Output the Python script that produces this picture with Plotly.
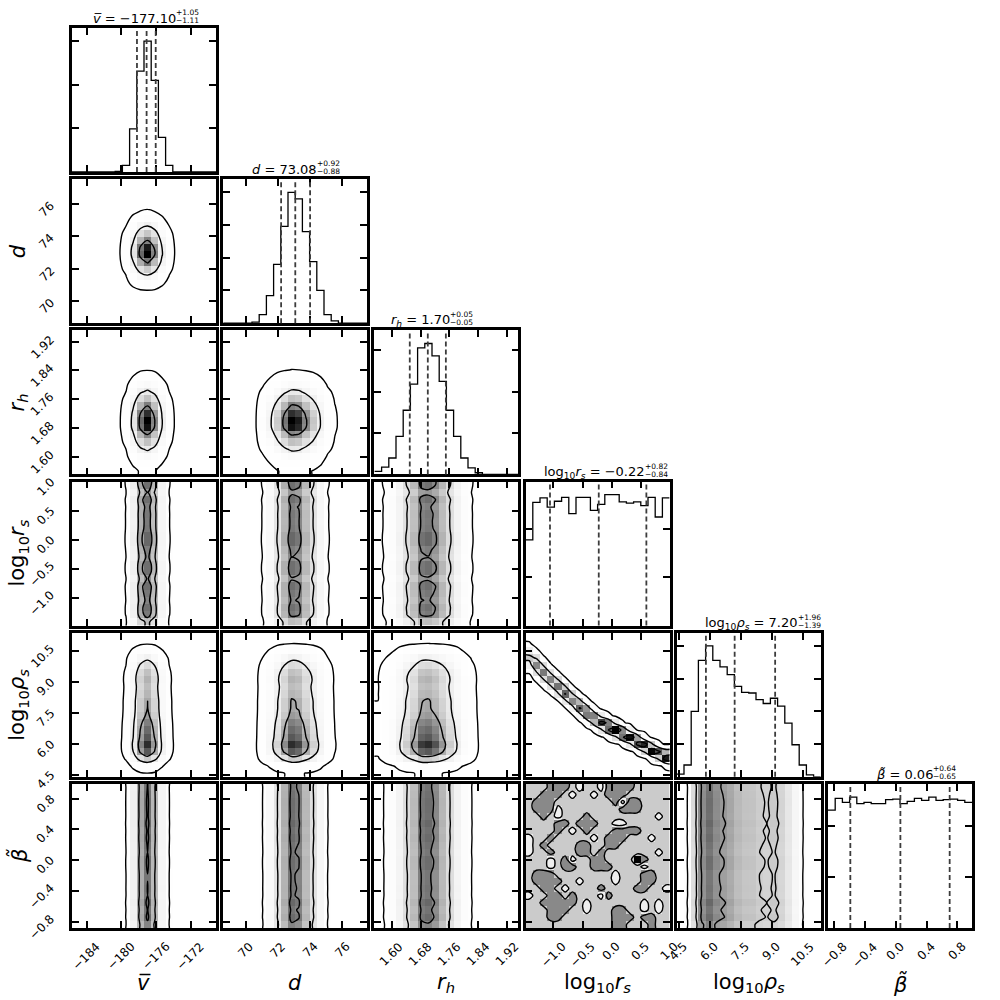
import math
import numpy as np
import plotly.graph_objects as go

# ---------------- data ----------------
axis_labels = [
    "<i>v\u0305</i>",
    "<i>d</i>",
    "<i>r</i><sub><i>h</i></sub>",
    "log<sub>10</sub><i>r</i><sub><i>s</i></sub>",
    "log<sub>10</sub><i>ρ</i><sub><i>s</i></sub>",
    "<i>β\u0303</i>",
]
ranges = [[-185.7, -169.1], [68.6, 77.55], [1.552, 1.951], [-1.48, 1.0], [4.4, 11.37], [-0.88, 0.99]]
tick_values = [
    [-184, -180, -176, -172],
    [70, 72, 74, 76],
    [1.60, 1.68, 1.76, 1.84, 1.92],
    [-1.0, -0.5, 0.0, 0.5, 1.0],
    [4.5, 6.0, 7.5, 9.0, 10.5],
    [-0.8, -0.4, 0.0, 0.4, 0.8],
]
tick_decimals = [0, 0, 2, 1, 1, 1]

hist_v = [0, 0, 0, 0, 0, 0, 15, 150, 990, 2310, 3000, 2100, 795, 150, 0, 0, 0, 0, 0, 0]
hist_d = [0, 0, 0, 0, 16, 130, 420, 900, 1480, 2000, 1900, 1400, 940, 500, 130, 36, 0, 0, 0, 0]
hist_rh = [36, 88, 198, 458, 774, 1090, 1528, 1580, 1430, 1122, 774, 458, 198, 79, 20, 0, 0, 0, 0, 0]
hist_rs = [354, 508, 527, 489, 513, 529, 462, 529, 529, 475, 500, 540, 540, 510, 505, 510, 495, 529, 448, 527]
hist_rho = [16, 72, 400, 712, 800, 712, 672, 624, 552, 516, 512, 472, 448, 480, 432, 328, 196, 72, 12, 0]
hist_beta = [464, 510, 494, 515, 489, 494, 489, 489, 505, 507, 489, 498, 510, 502, 515, 502, 505, 507, 502, 494]
hist_yticks = [[1000, 2000, 3000], [500, 1000, 1500, 2000], [500, 1000, 1500], [200, 400],
               [200, 400, 600, 800], [200, 400]]

medians = [-177.10, 73.08, 1.70, -0.22, 7.20, 0.06]
err_plus = [1.05, 0.92, 0.05, 0.82, 1.96, 0.64]
err_minus = [1.11, 0.88, 0.05, 0.84, 1.39, 0.65]

# ridge of the log10 r_s - log10 rho_s degeneracy
band_rs = [-1.44, -1.10, -0.81, -0.52, -0.235, 0.053, 0.34, 0.63, 0.91]
band_rho = [10.22, 9.25, 8.48, 7.73, 7.08, 6.68, 6.27, 5.79, 5.38]
band_sigma = [0.30, 0.28, 0.26, 0.24, 0.22, 0.20, 0.19, 0.18, 0.17]

# log10 r_s (columns) vs beta (rows, top = high beta) counts, read cell by cell
# '.' light, '-' typical, '#' dark, '@' darkest
rs_beta_cells = [
    "---###-.--.####-----",
    "--###-.--.-###------",
    "-###--------#.##----",
    "-###.--------###----",
    "--#-.---#---------.-",
    "----##-###--..------",
    "----#-.-#---####----",
    ".--#-----.-###---.--",
    ".-#----##--##-------",
    ".--#---##-#-------.-",
    "---.-#.--##----@#---",
    "---.-##--###----.---",
    "-###--------.---##--",
    "-####--.----.---##--",
    "--##-.----#----##--.",
    ".--##-#---.#--------",
    "--#####-.-------.-.-",
    "---###--.---##--.-.-",
    "---##-------###-##--",
    "------------##---#--",
]
cell_counts = {".": 25, "-": 45, "#": 68, "@": 100}

# ---------------- derived ----------------
hists = [hist_v, hist_d, hist_rh, hist_rs, hist_rho, hist_beta]
N = len(hists)
NB = 20
edges = [np.linspace(lo, hi, NB + 1) for lo, hi in ranges]
centers = [(e[:-1] + e[1:]) / 2 for e in edges]
probs = [np.array(h, float) / np.sum(h) for h in hists]

Phi = np.vectorize(lambda z: 0.5 * (1.0 + math.erf(z / math.sqrt(2.0))))
HPD_FRACTIONS = [0.3, 0.75, 0.993]


def joint(ix, iy):
    if (ix, iy) == (3, 4):
        mu = np.interp(centers[3], band_rs, band_rho)
        sg = np.interp(centers[3], band_rs, band_sigma)
        H = np.zeros((NB, NB))
        for k in range(NB):
            H[k] = probs[3][k] * np.diff(Phi((edges[4] - mu[k]) / sg[k]))
        return H
    if (ix, iy) == (3, 5):
        H = np.zeros((NB, NB))
        for row, line in enumerate(rs_beta_cells):
            for col, ch in enumerate(line):
                H[col, NB - 1 - row] = cell_counts[ch]
        return H
    return np.outer(probs[ix], probs[iy])


def contour_levels(ix, iy, H):
    if (ix, iy) == (3, 5):
        return [35.0, 56.0]
    flat = np.sort(H.ravel())[::-1]
    cum = np.cumsum(flat)
    cum /= cum[-1]
    out = []
    for f in HPD_FRACTIONS:
        i = min(np.searchsorted(cum, f), len(flat) - 1)
        out.append(flat[i])
    return out


def zmax_factor(ix, iy):
    if (ix, iy) in [(3, 4), (3, 5)]:
        return 1.0
    if ix in (3, 5) or iy in (3, 5):
        return 1.3
    if iy == 4:
        return 1.1
    return 1.0


def pad(xc, yc, H):
    dx = xc[1] - xc[0]
    dy = yc[1] - yc[0]
    xp = np.concatenate([[xc[0] - 2 * dx, xc[0] - dx], xc, [xc[-1] + dx, xc[-1] + 2 * dx]])
    yp = np.concatenate([[yc[0] - 2 * dy, yc[0] - dy], yc, [yc[-1] + dy, yc[-1] + 2 * dy]])
    Hp = np.full((H.shape[0] + 4, H.shape[1] + 4), H.min())
    Hp[2:-2, 2:-2] = H
    Hp[2:-2, 1] = H[:, 0]
    Hp[2:-2, -2] = H[:, -1]
    Hp[1, 2:-2] = H[0]
    Hp[-2, 2:-2] = H[-1]
    Hp[1, 1] = H[0, 0]
    Hp[1, -2] = H[0, -1]
    Hp[-2, 1] = H[-1, 0]
    Hp[-2, -2] = H[-1, -1]
    return xp, yp, Hp


def fmt(v, dec):
    return f"{v:.{dec}f}".replace("-", "\u2212")


def axname(n):
    return ("x", "y") if n == 1 else (f"x{n}", f"y{n}")


# grey density scale: black fading to transparent, composited on white
gray_scale = []
for f in np.linspace(0, 1, 21):
    g = int(round(255 * (1 - f * f)))
    gray_scale.append([float(f), f"rgb({g},{g},{g})"])

# ---------------- figure ----------------
X0, Y0, STEP, SIZE = 72.0, 28.0, 151.2, 144.0
FONT = "DejaVu Sans"


def dom_x(c):
    return [(X0 + STEP * c) / 1000, (X0 + STEP * c + SIZE) / 1000]


def dom_y(r):
    return [1 - (Y0 + STEP * r + SIZE) / 1000, 1 - (Y0 + STEP * r) / 1000]


fig = go.Figure()
layout = {}
shapes = []
annotations = []
common = dict(showline=True, linewidth=2.5, linecolor="black", mirror="ticks", ticks="inside",
              ticklen=7, tickwidth=2, tickcolor="black", showgrid=False, zeroline=False,
              showticklabels=False, fixedrange=True)

for r in range(N):
    for c in range(r + 1):
        n = r * N + c + 1
        xr, yr = axname(n)
        xkey, ykey = ("xaxis", "yaxis") if n == 1 else (f"xaxis{n}", f"yaxis{n}")
        layout[xkey] = dict(domain=dom_x(c), anchor=yr, range=ranges[c],
                            tickvals=tick_values[c], **common)
        if r == c:
            ymax = 1.1 * max(hists[c])
            layout[ykey] = dict(domain=dom_y(r), anchor=xr, range=[0, ymax],
                                tickvals=hist_yticks[c], **common)
            fig.add_trace(go.Scatter(x=edges[c], y=list(hists[c]) + [hists[c][-1]], mode="lines",
                                     line=dict(color="black", width=1.3, shape="hv"),
                                     xaxis=xr, yaxis=yr, hoverinfo="skip"))
            for q in [medians[c] - err_minus[c], medians[c], medians[c] + err_plus[c]]:
                shapes.append(dict(type="line", xref=xr, yref=f"{yr} domain", x0=q, x1=q, y0=0, y1=1,
                                   line=dict(color="#3c3c3c", width=1.8, dash="5px,3px")))
        else:
            layout[ykey] = dict(domain=dom_y(r), anchor=xr, range=ranges[r],
                                tickvals=tick_values[r], **common)
            H = joint(c, r)
            hmax = H.max()
            fig.add_trace(go.Heatmap(x=centers[c], y=centers[r], z=H.T, colorscale=gray_scale,
                                     zmin=0, zmax=hmax * zmax_factor(c, r),
                                     showscale=False, xaxis=xr, yaxis=yr, hoverinfo="skip"))
            xp, yp, Hp = pad(centers[c], centers[r], H)
            for L in contour_levels(c, r, H):
                fig.add_trace(go.Contour(x=xp, y=yp, z=Hp.T, autocontour=False,
                                         contours=dict(start=L, end=L, size=hmax, coloring="none"),
                                         line=dict(color="black", width=1.4, smoothing=0.9),
                                         showscale=False, xaxis=xr, yaxis=yr, hoverinfo="skip"))

# tick labels (bottom row and left column)
tick_font = dict(family=FONT, size=12, color="black")
for c in range(N):
    xr, yr = axname((N - 1) * N + c + 1)
    for t in tick_values[c]:
        annotations.append(dict(x=t, xref=xr, y=0, yref=f"{yr} domain", xanchor="center",
                                yanchor="top", yshift=-9, text=fmt(t, tick_decimals[c]),
                                textangle=-45, showarrow=False, font=tick_font))
for r in range(1, N):
    xr, yr = axname(r * N + 1)
    for t in tick_values[r]:
        annotations.append(dict(x=0, xref=f"{xr} domain", y=t, yref=yr, xanchor="right",
                                yanchor="middle", xshift=-12, yshift=-5,
                                text=fmt(t, tick_decimals[r]),
                                textangle=-45, showarrow=False, font=tick_font))

# axis labels
lab_font = dict(family=FONT, size=21, color="black")
for c in range(N):
    cx = (X0 + STEP * c + SIZE / 2) / 1000
    annotations.append(dict(x=cx, xref="paper", y=1 - 983 / 1000, yref="paper", xanchor="center",
                            yanchor="middle", text=axis_labels[c], showarrow=False, font=lab_font))
for r in range(1, N):
    cy = 1 - (Y0 + STEP * r + SIZE / 2) / 1000
    annotations.append(dict(x=18 / 1000, xref="paper", y=cy, yref="paper", xanchor="center",
                            yanchor="middle", text=axis_labels[r], textangle=-90, showarrow=False,
                            font=lab_font))

# diagonal titles: value with asymmetric errors
split_offsets = [34, 24, 6, 49, 51, 35]
for c in range(N):
    top = Y0 + STEP * c
    sx = (X0 + STEP * c + SIZE / 2 + split_offsets[c]) / 1000
    annotations.append(dict(x=sx, xref="paper", y=1 - (top - 9.5) / 1000, yref="paper",
                            xanchor="right", yanchor="middle",
                            text=f"{axis_labels[c]} = {fmt(medians[c], 2)}", showarrow=False,
                            font=dict(family=FONT, size=13, color="black")))
    annotations.append(dict(x=sx, xref="paper", xshift=-4, y=1 - (top - 15.5) / 1000, yref="paper",
                            xanchor="left", yanchor="middle", text=f"+{fmt(err_plus[c], 2)}",
                            showarrow=False, font=dict(family=FONT, size=7.5, color="black")))
    annotations.append(dict(x=sx, xref="paper", xshift=-4, y=1 - (top - 7.5) / 1000, yref="paper",
                            xanchor="left", yanchor="middle", text=f"\u2212{fmt(err_minus[c], 2)}",
                            showarrow=False, font=dict(family=FONT, size=7.5, color="black")))

fig.update_layout(width=1000, height=1000, margin=dict(l=0, r=0, t=0, b=0),
                  paper_bgcolor="white", plot_bgcolor="white", showlegend=False,
                  shapes=shapes, annotations=annotations, **layout)
fig.write_html("out.html")
